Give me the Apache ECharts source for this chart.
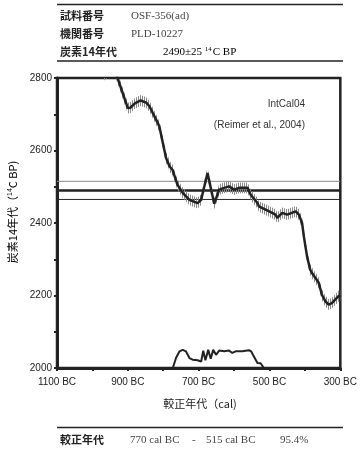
<!DOCTYPE html>
<html><head><meta charset="utf-8">
<script src="https://cdn.jsdelivr.net/npm/echarts@6/dist/echarts.min.js"></script>
<style>html,body{margin:0;padding:0;background:#fff}#c{width:360px;height:451px}</style>
</head><body><div id="c"></div>
<script>
// Calibration curve (IntCal04): calendar year BC, 14C age BP
const curveYear = [980, 965, 950, 940, 929, 900, 893, 880, 864, 848, 839, 816, 811, 802, 792, 788, 782, 774, 760, 754, 745, 726, 703, 693, 675, 656, 642, 628, 614, 600, 586, 562, 553, 534, 530, 501, 483, 478, 464, 450, 426, 417, 408, 403, 394, 385, 380, 370, 361, 352, 342, 333, 324, 305, 300];
const curveBP   = [2835, 2808, 2825, 2830, 2800, 2717, 2718, 2730, 2738, 2732, 2722, 2677, 2666, 2625, 2579, 2575, 2556, 2547, 2506, 2497, 2483, 2464, 2455, 2464, 2538, 2453, 2492, 2497, 2501, 2492, 2497, 2497, 2478, 2455, 2446, 2432, 2423, 2414, 2428, 2423, 2432, 2423, 2400, 2363, 2308, 2271, 2262, 2248, 2235, 2202, 2184, 2175, 2179, 2198, 2200];
const curveErr = 15; // 1-sigma band of the curve (gray error bars)
// Calibrated probability distribution (relative)
const distYear = [773, 764, 754, 745, 736, 726, 717, 703, 693, 687, 681, 673, 666, 659, 651, 642, 628, 614, 605, 594, 577, 558, 552, 544, 534, 525, 516];
const distP    = [0, 0.55, 0.92, 1.0, 0.92, 0.55, 0.46, 0.43, 0.36, 0.96, 0.43, 1.0, 0.51, 1.0, 0.73, 0.96, 0.92, 0.96, 0.83, 0.93, 0.93, 0.98, 0.92, 0.64, 0.28, 0.26, 0];
// Measured age
const c14Age = 2490;
const c14Err = 25;
// Axes
const xMin = 300, xMax = 1100, xStep = 100;
const yMin = 2000, yMax = 2800, yStep = 100;
// Texts
const sampleNo = 'OSF-356(ad)';
const labNo = 'PLD-10227';
const calRange = ['770 cal BC', '515 cal BC', '95.4%'];

const curve = curveYear.map((y, i) => [y, curveBP[i]]);
const dist = distYear.map((y, i) => [y, distP[i]]);
const hline = v => [[xMax, v], [xMin, v]];

const sans = 'Liberation Sans, Arial, sans-serif';
const jp = 'Noto Sans CJK JP';
const serif = 'Liberation Serif, DejaVu Serif, serif';
const ink = '#222';

// vertical-stripe pattern for the error bars
const pc = document.createElement('canvas');
pc.width = 2; pc.height = 2;
const pctx = pc.getContext('2d');
pctx.fillStyle = '#8a8a8a';
pctx.fillRect(0, 0, 1, 2);

const chart = echarts.init(document.getElementById('c'));
chart.setOption({
  animation: false,
  backgroundColor: '#fff',
  grid: { left: 57, right: 18, top: 78, bottom: 83, show: true, borderColor: ink, borderWidth: 2.5, backgroundColor: 'transparent' },
  xAxis: {
    type: 'value', min: xMin, max: xMax, interval: xStep, inverse: true,
    axisLine: { onZero: false, lineStyle: { color: ink, width: 3 } },
    axisTick: { show: true, length: 3, lineStyle: { color: ink, width: 2 } },
    splitLine: { show: false },
    axisLabel: { margin: 9, color: ink, fontFamily: sans, fontSize: 10,
      formatter: v => (v % 200 === 100 ? v + ' BC' : '') }
  },
  yAxis: [{
    type: 'value', min: yMin, max: yMax, interval: yStep,
    axisLine: { show: true, onZero: false, lineStyle: { color: ink, width: 3 } },
    axisTick: { show: true, length: 3, lineStyle: { color: ink, width: 2 } },
    splitLine: { show: false },
    axisLabel: { margin: 5, color: ink, fontFamily: sans, fontSize: 10,
      formatter: v => (v % 200 === 0 ? String(v) : '') }
  }, {
    type: 'value', min: 0, max: 16, show: false, splitLine: { show: false }
  }],
  series: [
    { type: 'line', data: hline(c14Age + c14Err), symbol: 'none', lineStyle: { color: '#888', width: 1 }, z: 2 },
    { type: 'line', data: hline(c14Age), symbol: 'none', lineStyle: { color: ink, width: 2.5 }, z: 2 },
    { type: 'line', data: hline(c14Age - c14Err), symbol: 'none', lineStyle: { color: ink, width: 1 }, z: 2 },
    { type: 'custom', clip: true, z: 3, data: [[600, 2500]],
      renderItem: (params, api) => {
        const up = curve.map(([x, y]) => api.coord([x, y + curveErr]));
        const lo = curve.map(([x, y]) => api.coord([x, y - curveErr])).reverse();
        return { type: 'polygon', shape: { points: up.concat(lo) },
                 style: { fill: { image: pc, repeat: 'repeat' }, stroke: null } };
      } },
    { type: 'line', data: curve, symbol: 'none', clip: true,
      lineStyle: { color: ink, width: 2.5 }, z: 4 },
    { type: 'line', yAxisIndex: 1, data: dist, symbol: 'none',
      lineStyle: { color: ink, width: 2 }, z: 4 }
  ],
  graphic: [
    // header table
    { type: 'line', shape: { x1: 57, y1: 4.5, x2: 343, y2: 4.5 }, style: { stroke: ink, lineWidth: 1.5 } },
    { type: 'line', shape: { x1: 57, y1: 61, x2: 343, y2: 61 }, style: { stroke: ink, lineWidth: 1.5 } },
    { type: 'text', x: 60, y: 16, style: { text: '試料番号', font: 'bold 11px ' + jp, fill: ink, textVerticalAlign: 'middle' } },
    { type: 'text', x: 131, y: 16, style: { text: sampleNo, font: '11px ' + serif, fill: '#444', textVerticalAlign: 'middle' } },
    { type: 'text', x: 60, y: 34, style: { text: '機関番号', font: 'bold 11px ' + jp, fill: ink, textVerticalAlign: 'middle' } },
    { type: 'text', x: 131, y: 34, style: { text: labNo, font: '11px ' + serif, fill: '#444', textVerticalAlign: 'middle' } },
    { type: 'text', x: 60, y: 52, style: { text: '炭素14年代', font: 'bold 11px ' + jp, fill: ink, textVerticalAlign: 'middle' } },
    { type: 'text', x: 163, y: 52, style: {
        text: '{a|' + c14Age + '±' + c14Err + ' }{s|14}{a|C BP}', textVerticalAlign: 'middle',
        rich: { a: { fontFamily: serif, fontSize: 11, color: '#444' },
                s: { fontFamily: serif, fontSize: 7, color: '#444', verticalAlign: 'top', padding: [0, 1, 6, 0] } } } },
    // annotation
    { type: 'text', x: 305, y: 104, style: { text: 'IntCal04', font: '10px ' + sans, fill: '#333', textAlign: 'right', textVerticalAlign: 'middle' } },
    { type: 'text', x: 305, y: 125, style: { text: '(Reimer et al., 2004)', font: '10px ' + sans, fill: '#333', textAlign: 'right', textVerticalAlign: 'middle' } },
    // axis titles
    { type: 'text', x: 200, y: 404, style: { text: '較正年代（cal)', font: '11px ' + jp, fill: ink, textAlign: 'center', textVerticalAlign: 'middle' } },
    { type: 'text', x: 13, y: 212, rotation: Math.PI / 2, style: {
        text: '{a|炭素14年代（}{s|14}{a|C BP)}', textAlign: 'center', textVerticalAlign: 'middle',
        rich: { a: { fontFamily: jp, fontSize: 11, color: ink },
                s: { fontFamily: sans, fontSize: 7, color: ink, padding: [0, 0, 6, 0] } } } },
    // bottom table
    { type: 'line', shape: { x1: 57, y1: 427.5, x2: 343, y2: 427.5 }, style: { stroke: ink, lineWidth: 1.5 } },
    { type: 'text', x: 60, y: 440, style: { text: '較正年代', font: 'bold 11px ' + jp, fill: ink, textVerticalAlign: 'middle' } },
    { type: 'text', x: 130, y: 440, style: { text: calRange[0], font: '11px ' + serif, fill: '#444', textVerticalAlign: 'middle' } },
    { type: 'text', x: 192, y: 440, style: { text: '-', font: '11px ' + serif, fill: '#444', textVerticalAlign: 'middle' } },
    { type: 'text', x: 206, y: 440, style: { text: calRange[1], font: '11px ' + serif, fill: '#444', textVerticalAlign: 'middle' } },
    { type: 'text', x: 280, y: 440, style: { text: calRange[2], font: '11px ' + serif, fill: '#444', textVerticalAlign: 'middle' } }
  ]
});
</script></body></html>
